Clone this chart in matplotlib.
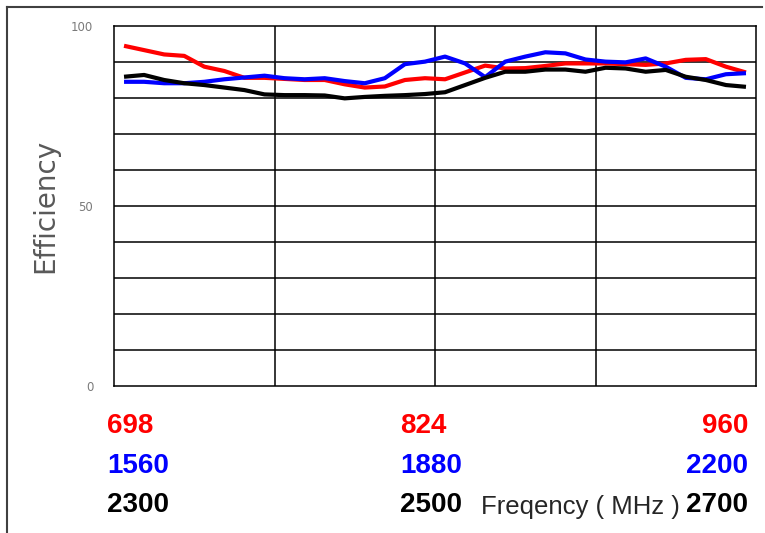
import matplotlib.pyplot as plt
from matplotlib.lines import Line2D

# efficiency (%) at 32 sample points across each band
band_low = [94.5, 93.3, 92.1, 91.7, 88.7, 87.5, 85.6, 85.6, 85.3, 85.0, 85.0, 83.8, 82.9, 83.2, 85.0, 85.5,
            85.2, 87.1, 89.0, 88.2, 88.3, 88.9, 89.6, 89.6, 89.6, 89.4, 89.2, 89.6, 90.6, 90.8, 88.7, 87.1]
band_mid = [84.5, 84.5, 84.1, 84.1, 84.5, 85.2, 85.7, 86.2, 85.5, 85.2, 85.5, 84.7, 84.1, 85.5, 89.4, 90.1,
            91.5, 89.6, 85.8, 90.1, 91.5, 92.7, 92.4, 90.7, 90.1, 89.9, 91.0, 88.7, 85.6, 85.2, 86.6, 86.9]
band_high = [85.9, 86.4, 85.0, 84.1, 83.6, 82.9, 82.2, 81.0, 80.8, 80.8, 80.7, 79.9, 80.3, 80.6, 80.8, 81.1,
             81.6, 83.6, 85.6, 87.3, 87.3, 87.9, 87.9, 87.3, 88.4, 88.2, 87.3, 87.8, 85.9, 85.0, 83.6, 83.1]

freq_low = ['698', '824', '960']
freq_mid = ['1560', '1880', '2200']
freq_high = ['2300', '2500', '2700']

fig = plt.figure(figsize=(7.65, 5.33), dpi=100)
ax = fig.add_axes([114/765, 147/533, 642/765, 360/533])

x = list(range(len(band_low)))
ax.plot(x, band_low, color='#ff0000', lw=3, solid_capstyle='butt', zorder=3)
ax.plot(x, band_mid, color='#0000ff', lw=3, solid_capstyle='butt', zorder=3)
ax.plot(x, band_high, color='#000000', lw=3, solid_capstyle='butt', zorder=3)

ax.set_xlim(-0.5, 31.5)
ax.set_ylim(0, 100)
for v in range(10, 100, 10):
    ax.axhline(v, color='black', lw=1.1, zorder=1)
for v in [7.5, 15.5, 23.5]:
    ax.axvline(v, color='black', lw=1.1, zorder=1)
for s in ax.spines.values():
    s.set_color('black')
    s.set_linewidth(1.1)

ax.set_xticks([])
ax.set_yticks([0, 50, 100])
ax.tick_params(axis='y', length=0, pad=15, labelsize=8.5, labelcolor='#7a7a7a')

# y label placed by hand, like the original
fig.text(45/765, 1 - 206/533, 'Efficiency', rotation=90, fontsize=20, color='#595959',
         ha='center', va='center')

# frequency labels under the plot
lab = dict(family='Liberation Sans', fontsize=20, fontweight='bold', va='center')
rows = [(freq_low, '#ff0000', 426), (freq_mid, '#0000ff', 466), (freq_high, '#000000', 505)]
for labels, col, ypix in rows:
    y = 1 - ypix/533
    fig.text(107/765, y, labels[0], color=col, ha='left', **lab)
    fig.text(400/765, y, labels[1], color=col, ha='left', **lab)
    fig.text(748/765, y, labels[2], color=col, ha='right', **lab)
fig.text(481/765, 1 - 507/533, 'Freqency ( MHz )', color='#262626', family='Liberation Sans',
         fontsize=18.5, ha='left', va='center')

# frame around the chart
fig.add_artist(Line2D([7/765, 7/765], [0, 1 - 7/533], color='#404040', lw=1.5))
fig.add_artist(Line2D([7/765, 762/765], [1 - 7/533, 1 - 7/533], color='#404040', lw=1.5))

fig.savefig('out.png', dpi=100)
